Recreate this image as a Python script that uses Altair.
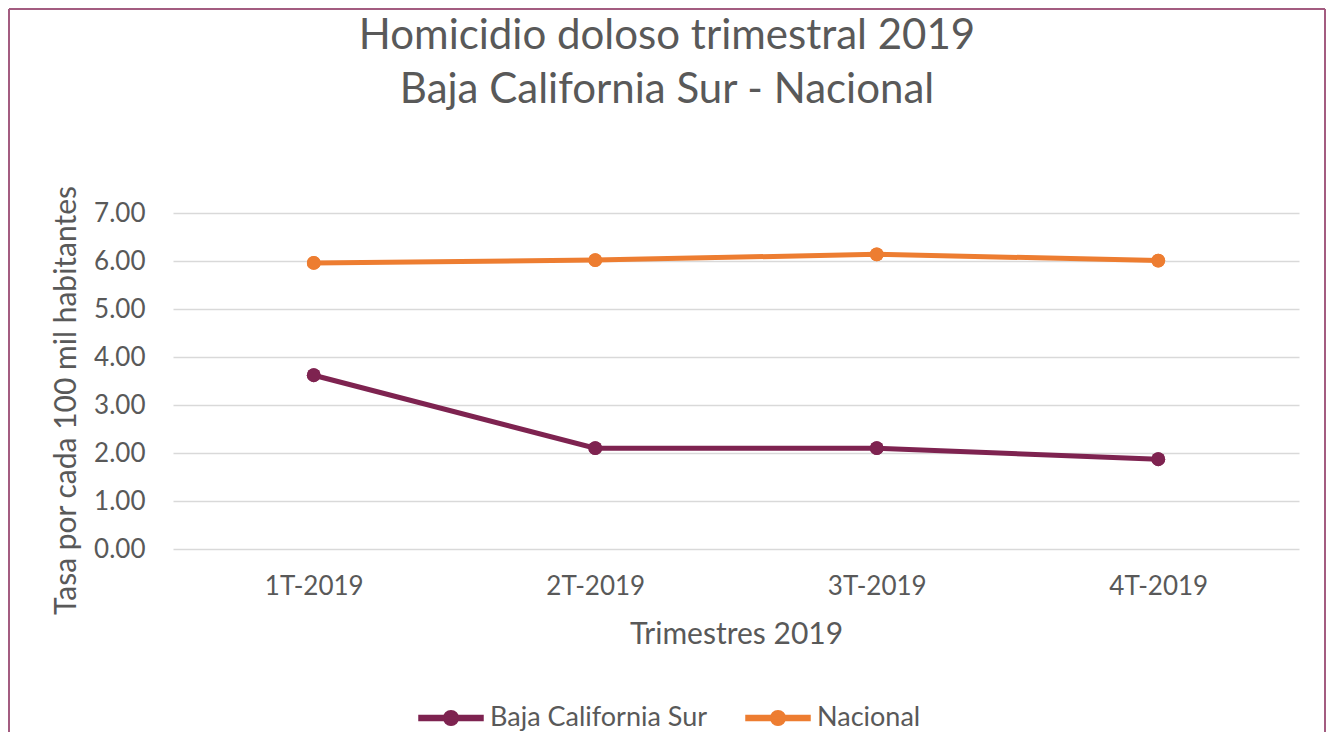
import altair as alt
import pandas as pd

quarters = ["1T-2019", "2T-2019", "3T-2019", "4T-2019"]
baja = [3.62, 2.10, 2.10, 1.87]
nacional = [5.96, 6.02, 6.14, 6.01]
series_names = ["Baja California Sur", "Nacional"]
colors = ["#7E2350", "#ED7D31"]
title_lines = ["Homicidio doloso trimestral 2019", "Baja California Sur - Nacional"]
y_ticks = [0, 1, 2, 3, 4, 5, 6, 7]

rows = []
for q, v in zip(quarters, baja):
    rows.append({"trimestre": q, "serie": series_names[0], "tasa": v})
for q, v in zip(quarters, nacional):
    rows.append({"trimestre": q, "serie": series_names[1], "tasa": v})
df = pd.DataFrame(rows)

FONT = "Lato"
GRAY = "#595959"

x_enc = alt.X("trimestre:N", sort=quarters, title="Trimestres 2019",
              axis=alt.Axis(labelAngle=0, labelFontSize=26, labelPadding=24,
                            titleFontSize=30, titlePadding=20, ticks=False,
                            domain=False, grid=False))
y_enc = alt.Y("tasa:Q", title="Tasa por cada 100 mil habitantes",
              scale=alt.Scale(domain=[0, 7], nice=False),
              axis=alt.Axis(values=y_ticks, format=".2f", labelFontSize=26,
                            labelPadding=28, titleFontSize=30, titlePadding=12,
                            titleY=187, ticks=False, domain=False, grid=True))

sym_path = ("M-1,-0.08 L1,-0.08 L1,0.08 L-1,0.08 Z "
            "M-0.23,0 A0.23,0.23 0 1,1 0.23,0 A0.23,0.23 0 1,1 -0.23,0 Z")

color_enc = alt.Color(
    "serie:N", scale=alt.Scale(domain=series_names, range=colors),
    legend=alt.Legend(title=None, orient="none", direction="horizontal",
                      legendX=245, legendY=472, symbolType=sym_path,
                      symbolSize=4096, labelFontSize=27, labelOffset=6,
                      labelLimit=0, columnPadding=35, padding=0, symbolOpacity=1),
)

points = alt.Chart(df).mark_circle(size=190, opacity=1).encode(x=x_enc, y=y_enc, color=color_enc)
lines = alt.Chart(df).mark_line(strokeWidth=5).encode(x=x_enc, y=y_enc, color=color_enc)

border = alt.Chart(pd.DataFrame({"k": [0]})).mark_rule(color="#A35C80", strokeWidth=2)
b_left = border.encode(x=alt.value(-164), y=alt.value(-204), y2=alt.value(520))
b_top = border.encode(x=alt.value(-164), x2=alt.value(1152), y=alt.value(-204))
b_right = border.encode(x=alt.value(1152), y=alt.value(-204), y2=alt.value(520))

chart = alt.layer(points, lines, points, b_left, b_top, b_right).properties(
    width=1126, height=336,
    background="white",
    autosize=alt.AutoSizeParams(type="none"),
    padding={"left": 165, "top": 205, "right": 27, "bottom": 183},
    title=alt.TitleParams(text=title_lines, fontSize=42, font=FONT, fontWeight="normal",
                          color=GRAY, anchor="middle", dx=-69, offset=-104, lineHeight=54),
).configure_view(stroke=None).configure_axis(
    labelFont=FONT, titleFont=FONT, labelColor=GRAY, titleColor=GRAY,
    titleFontWeight="normal", gridColor="#D9D9D9", gridWidth=1.5,
).configure_legend(labelFont=FONT, labelColor=GRAY)

chart.save("out.html", embed_options={"renderer": "svg", "actions": False})
